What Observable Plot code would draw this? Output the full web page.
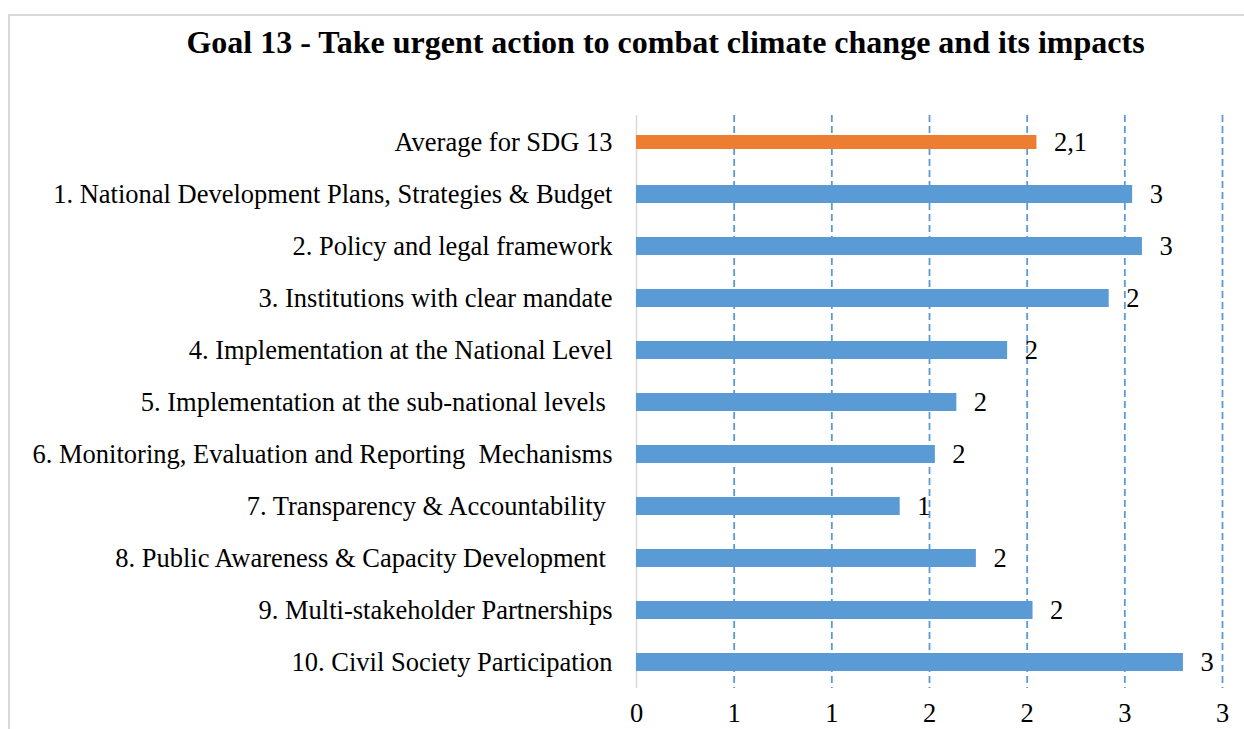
<!DOCTYPE html>
<html>
<head>
<meta charset="utf-8">
<script src="https://cdn.jsdelivr.net/npm/d3@7"></script>
<script src="https://cdn.jsdelivr.net/npm/@observablehq/plot@0.6"></script>
<style>
  html, body { margin: 0; padding: 0; background: #fff; overflow: hidden; width: 1244px; height: 729px; }
  #frame { position: absolute; left: 8px; top: 14px; width: 1300px; height: 800px; border: 2px solid #d9d9d9; box-sizing: border-box; }
  #title { position: absolute; left: 0; top: 24px; width: 1331px; text-align: center; font-family: "Liberation Serif", "Times New Roman", serif; font-weight: bold; font-size: 32px; color: #000; white-space: nowrap; }
  #chart { position: absolute; left: 0; top: 100px; }
  #chart svg text { white-space: pre; }
</style>
</head>
<body>
<div id="frame"></div>
<div id="title">Goal 13 - Take urgent action to combat climate change and its impacts</div>
<div id="chart"></div>
<script>
const categories = [
  "Average for SDG 13",
  "1. National Development Plans, Strategies & Budget",
  "2. Policy and legal framework",
  "3. Institutions with clear mandate",
  "4. Implementation at the National Level",
  "5. Implementation at the sub-national levels ",
  "6. Monitoring, Evaluation and Reporting  Mechanisms",
  "7. Transparency & Accountability ",
  "8. Public Awareness & Capacity Development ",
  "9. Multi-stakeholder Partnerships",
  "10. Civil Society Participation"
];
const scores = [2.05, 2.54, 2.59, 2.42, 1.90, 1.64, 1.53, 1.35, 1.74, 2.03, 2.80];
const series = ["Average", "Component", "Component", "Component", "Component", "Component", "Component", "Component", "Component", "Component", "Component"];
const labelDecimals = [1, 0, 0, 0, 0, 0, 0, 0, 0, 0, 0];
const xTicks = [0, 0.5, 1, 1.5, 2, 2.5, 3];

function fmt(v, dec) {
  const p = Math.pow(10, dec);
  const r = Math.round(v * p + 1e-9) / p;
  return r.toFixed(dec).replace(".", ",");
}

const rows = categories.map((c, i) => ({
  category: c,
  score: scores[i],
  series: series[i],
  label: fmt(scores[i], labelDecimals[i])
}));

const font = '"Liberation Serif", "Times New Roman", serif';

const chart = Plot.plot({
  width: 1244,
  height: 629,
  marginLeft: 636,
  marginRight: 22,
  marginTop: 15,
  marginBottom: 41,
  style: { fontFamily: font, fontSize: "26.5px", color: "#000", background: "transparent", overflow: "visible" },
  x: { domain: [0, 3], ticks: xTicks, tickFormat: d => String(Math.round(d)), label: null },
  y: { domain: categories, paddingInner: 0.655, paddingOuter: 0.3275, label: null },
  color: { domain: ["Average", "Component"], range: ["#ED7D31", "#5B9BD5"] },
  marks: [
    Plot.ruleX(xTicks.filter(d => d > 0), { stroke: "#5B9BD5", strokeWidth: 1.8, strokeDasharray: "7,4" }),
    Plot.ruleX([0], { stroke: "#d9d9d9", strokeWidth: 1.5 }),
    Plot.barX(rows.filter(d => d.series === "Component"), { x: "score", y: "category", fill: "series" }),
    Plot.barX(rows.filter(d => d.series === "Average"), { x: "score", y: "category", fill: "series", insetTop: 2, insetBottom: 2 }),
    Plot.text(rows, { x: "score", y: "category", text: "label", dx: 17, textAnchor: "start", fill: "#000", fontSize: 26.5 }),
    Plot.axisY({ tickSize: 0, tickPadding: 24, fontSize: 26.5, fill: "#000" }),
    Plot.axisX({ ticks: xTicks, tickFormat: d => String(Math.round(d)), tickSize: 0, tickPadding: 15, fontSize: 26.5, fill: "#000", label: null })
  ]
});
document.getElementById("chart").appendChild(chart);
</script>
</body>
</html>
